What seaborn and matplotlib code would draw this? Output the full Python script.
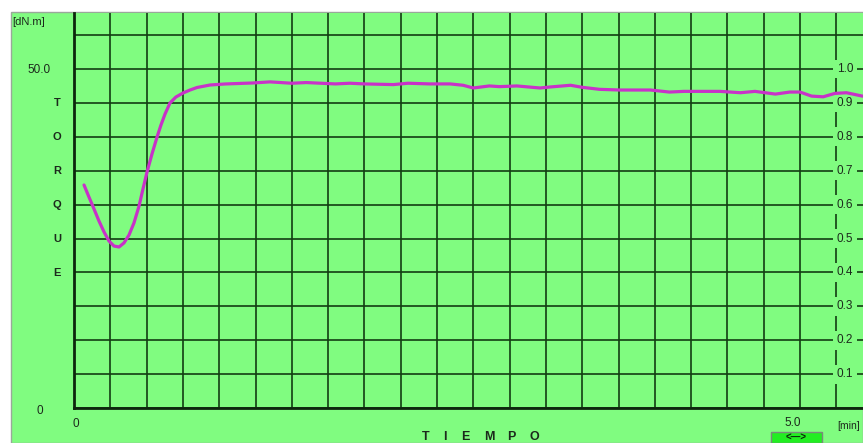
import pandas as pd
import matplotlib.pyplot as plt
from matplotlib.patches import Rectangle
import seaborn as sns

# torque curve (time in min, torque in dN.m)
time_min = [0.069, 0.103, 0.138, 0.172, 0.207, 0.241, 0.275, 0.310, 0.344, 0.379,
            0.413, 0.448, 0.475, 0.503, 0.537, 0.572, 0.599, 0.627, 0.661, 0.702,
            0.751, 0.799, 0.847, 0.937, 1.040, 1.233, 1.35, 1.50,
            1.60, 1.70, 1.80, 1.90, 2.00, 2.20, 2.30, 2.45, 2.59, 2.68,
            2.75, 2.86, 2.93, 3.05, 3.21, 3.28, 3.42, 3.50, 3.62, 3.76,
            3.97, 4.10, 4.20, 4.31, 4.45, 4.59, 4.69, 4.83, 4.93, 5.00,
            5.08, 5.16, 5.24, 5.32, 5.43]
torque = [32.89, 31.12, 29.35, 27.58, 25.96, 24.63, 23.89, 23.75, 24.34, 25.52,
          27.29, 29.79, 32.30, 34.81, 37.46, 39.97, 41.74, 43.36, 44.99, 45.87,
          46.46, 46.90, 47.27, 47.64, 47.79, 47.94, 48.1, 47.9,
          48.0, 47.9, 47.8, 47.9, 47.8, 47.7, 47.9, 47.8, 47.8, 47.6,
          47.2, 47.5, 47.4, 47.5, 47.2, 47.35, 47.6, 47.3, 47.0, 46.9,
          46.9, 46.6, 46.7, 46.7, 46.7, 46.5, 46.7, 46.3, 46.6, 46.6,
          46.0, 45.9, 46.4, 46.5, 46.0]

left_letters = ["T", "O", "R", "Q", "U", "E"]
right_labels = ["1.0", "0.9", "0.8", "0.7", "0.6", "0.5", "0.4", "0.3", "0.2", "0.1"]
x_title = ["T", "I", "E", "M", "P", "O"]

df = pd.DataFrame({"Tiempo": time_min, "Torque": torque})

W, H = 863, 443
GREEN = "#80fc80"
GRID = "#123d12"
TXT = "#1c2a1c"


def fx(x):
    return x / W


def fy(y):
    return 1 - y / H


sns.set_style("white")
plt.rcParams["font.family"] = ["Liberation Sans", "DejaVu Sans"]

fig = plt.figure(figsize=(W / 100, H / 100), dpi=100, facecolor="white")
fig.patches.append(Rectangle((fx(11), 0), fx(W - 11), fy(12), transform=fig.transFigure,
                             facecolor=GREEN, edgecolor="#9aa89a", lw=1, zorder=-10))

ax = fig.add_axes([fx(74), fy(408), fx(W - 74), fy(13) - fy(408)])
ax.set_facecolor(GREEN)

sns.lineplot(data=df, x="Tiempo", y="Torque", ax=ax, color="#c832c8", lw=2.3, zorder=6)

xmax = (W - 74) / 145.2
ymax = (408 - 13) / 6.78
ax.set_xlim(0, xmax)
ax.set_ylim(0, ymax)
ax.set_xticks([i * 0.25 for i in range(22)])
ax.set_yticks([i * 5 for i in range(12)])
ax.grid(True, color=GRID, lw=1.2)
ax.tick_params(length=0, labelbottom=False, labelleft=False)
ax.set_xlabel("")
ax.set_ylabel("")
for s in ["top", "right"]:
    ax.spines[s].set_visible(False)
for s in ["left", "bottom"]:
    ax.spines[s].set_color("#0d260d")
    ax.spines[s].set_linewidth(2)

# left scale
fig.text(fx(12), fy(22), "[dN.m]", fontsize=8, color=TXT, va="center", ha="left")
fig.text(fx(51), fy(70), "50.0", fontsize=8.5, color=TXT, va="center", ha="right")
for i, ch in enumerate(left_letters):
    fig.text(fx(57), fy(103 + 34 * i), ch, fontsize=8, fontweight="bold", color=TXT,
             va="center", ha="center")
fig.text(fx(40), fy(411), "0", fontsize=8.5, color=TXT, va="center", ha="center")

# right scale printed over the grid
for i, lab in enumerate(right_labels):
    ax.text(fx(845), fy(69 + 33.9 * i), lab, transform=fig.transFigure,
            fontsize=8.5, color=TXT, va="center", ha="center", zorder=5,
            bbox=dict(facecolor=GREEN, edgecolor="none", pad=2.5))

# bottom scale
fig.text(fx(76), fy(424), "0", fontsize=8.5, color=TXT, va="center", ha="center")
fig.text(fx(793), fy(423), "5.0", fontsize=8.5, color=TXT, va="center", ha="center")
fig.text(fx(849), fy(426), "[min]", fontsize=7.5, color=TXT, va="center", ha="center")
for cx, ch in zip([426, 445, 465, 489, 511, 534], x_title):
    fig.text(fx(cx), fy(437), ch, fontsize=9, fontweight="bold", color=TXT,
             va="center", ha="center")

fig.patches.append(Rectangle((fx(771), 0), fx(51), fy(432), transform=fig.transFigure,
                             facecolor="#22ee22", edgecolor="#7a8a7a", lw=1, zorder=2))
fig.text(fx(796), fy(438), "<—>", fontsize=7, fontweight="bold", color="#0a2a0a",
         va="center", ha="center", zorder=3)

fig.savefig("out.png", dpi=100, facecolor="white")
